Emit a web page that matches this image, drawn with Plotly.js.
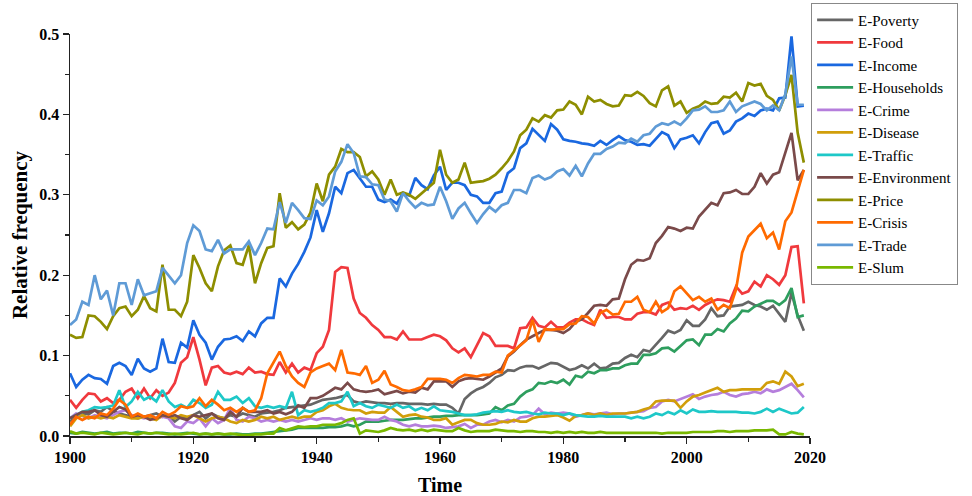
<!DOCTYPE html>
<html>
<head>
<meta charset="utf-8">
<script src="https://cdn.plot.ly/plotly-3.0.1.min.js"></script>
<style>html,body{margin:0;padding:0;background:#fff}#chart{width:972px;height:496px}</style>
</head>
<body>
<div id="chart"></div>
<script>
const startYear = 1900;
const endYear = 2019;

const seriesNames = ["E-Poverty","E-Food","E-Income","E-Households","E-Crime","E-Disease","E-Traffic","E-Environment","E-Price","E-Crisis","E-Trade","E-Slum"];

const poverty = [
0.018,0.024,0.028,0.027,0.032,0.030,0.036,0.031,0.028,0.026,
0.024,0.022,0.024,0.026,0.028,0.024,0.026,0.018,0.024,0.022,
0.026,0.030,0.022,0.028,0.024,0.022,0.026,0.024,0.028,0.026,
0.024,0.028,0.029,0.030,0.032,0.035,0.036,0.037,0.038,0.039,
0.042,0.045,0.046,0.047,0.049,0.051,0.043,0.041,0.043,0.042,
0.041,0.041,0.040,0.041,0.041,0.040,0.040,0.040,0.039,0.040,
0.039,0.039,0.035,0.028,0.046,0.053,0.058,0.061,0.066,0.073,
0.076,0.082,0.081,0.085,0.087,0.087,0.084,0.088,0.091,0.090,
0.086,0.082,0.084,0.088,0.084,0.090,0.084,0.085,0.090,0.091,
0.097,0.101,0.098,0.107,0.105,0.113,0.122,0.131,0.128,0.132,
0.144,0.137,0.137,0.145,0.159,0.149,0.150,0.161,0.162,0.163,
0.167,0.163,0.161,0.157,0.162,0.152,0.142,0.178,0.150,0.131];

const food = [
0.045,0.035,0.045,0.053,0.052,0.043,0.047,0.041,0.045,0.055,
0.059,0.047,0.059,0.047,0.057,0.050,0.054,0.066,0.091,0.098,
0.123,0.095,0.063,0.085,0.087,0.079,0.077,0.080,0.077,0.085,
0.079,0.080,0.077,0.076,0.092,0.079,0.090,0.079,0.085,0.082,
0.103,0.111,0.132,0.204,0.210,0.209,0.171,0.153,0.147,0.138,
0.132,0.123,0.123,0.120,0.130,0.120,0.120,0.120,0.123,0.126,
0.124,0.119,0.109,0.104,0.109,0.098,0.113,0.128,0.124,0.112,
0.112,0.112,0.109,0.134,0.135,0.147,0.137,0.135,0.142,0.135,
0.135,0.141,0.145,0.145,0.141,0.138,0.157,0.147,0.148,0.148,
0.145,0.145,0.152,0.154,0.154,0.151,0.163,0.166,0.157,0.159,
0.158,0.162,0.157,0.163,0.167,0.170,0.169,0.167,0.186,0.177,
0.180,0.192,0.186,0.200,0.195,0.188,0.200,0.235,0.236,0.165];

const income = [
0.078,0.061,0.070,0.076,0.072,0.071,0.065,0.087,0.091,0.087,
0.076,0.096,0.084,0.080,0.084,0.121,0.092,0.091,0.116,0.110,
0.144,0.126,0.116,0.095,0.111,0.120,0.121,0.124,0.118,0.130,
0.124,0.140,0.147,0.147,0.196,0.186,0.202,0.214,0.229,0.247,
0.281,0.254,0.277,0.310,0.302,0.327,0.331,0.321,0.310,0.310,
0.294,0.291,0.294,0.289,0.302,0.299,0.321,0.312,0.307,0.324,
0.335,0.306,0.315,0.315,0.312,0.300,0.298,0.290,0.290,0.302,
0.304,0.327,0.333,0.358,0.364,0.382,0.374,0.367,0.388,0.381,
0.369,0.367,0.366,0.364,0.363,0.361,0.367,0.362,0.368,0.373,
0.368,0.366,0.362,0.363,0.361,0.370,0.378,0.374,0.358,0.369,
0.371,0.374,0.364,0.378,0.389,0.391,0.376,0.380,0.391,0.395,
0.401,0.398,0.405,0.407,0.405,0.420,0.421,0.497,0.410,0.411];

const households = [
0.004,0.003,0.005,0.004,0.003,0.004,0.005,0.003,0.004,0.004,
0.003,0.005,0.004,0.003,0.004,0.004,0.003,0.002,0.003,0.004,
0.003,0.002,0.003,0.002,0.003,0.002,0.002,0.003,0.002,0.002,
0.003,0.003,0.004,0.005,0.006,0.007,0.008,0.010,0.010,0.010,
0.010,0.010,0.011,0.011,0.012,0.014,0.012,0.014,0.018,0.018,
0.018,0.019,0.020,0.020,0.020,0.021,0.022,0.022,0.023,0.024,
0.024,0.025,0.025,0.026,0.026,0.026,0.026,0.027,0.028,0.036,
0.032,0.038,0.040,0.049,0.055,0.058,0.066,0.065,0.068,0.066,
0.070,0.064,0.075,0.073,0.080,0.078,0.082,0.082,0.084,0.084,
0.088,0.090,0.090,0.101,0.101,0.103,0.109,0.110,0.105,0.112,
0.119,0.120,0.113,0.126,0.126,0.133,0.130,0.140,0.146,0.156,
0.155,0.161,0.165,0.168,0.168,0.163,0.169,0.184,0.148,0.150];

const crime = [
0.022,0.028,0.025,0.022,0.026,0.024,0.022,0.026,0.030,0.032,
0.026,0.024,0.022,0.024,0.022,0.024,0.022,0.012,0.010,0.018,
0.016,0.022,0.012,0.022,0.016,0.020,0.035,0.020,0.018,0.024,
0.022,0.018,0.020,0.018,0.020,0.018,0.020,0.018,0.020,0.022,
0.020,0.022,0.022,0.020,0.022,0.018,0.020,0.022,0.021,0.020,
0.020,0.024,0.020,0.018,0.014,0.012,0.014,0.012,0.012,0.013,
0.012,0.010,0.011,0.012,0.015,0.010,0.014,0.014,0.018,0.020,
0.017,0.020,0.018,0.023,0.024,0.026,0.034,0.027,0.029,0.028,
0.029,0.028,0.024,0.026,0.028,0.027,0.028,0.029,0.027,0.028,
0.028,0.029,0.030,0.031,0.035,0.036,0.043,0.045,0.043,0.046,
0.049,0.052,0.046,0.049,0.051,0.052,0.055,0.051,0.049,0.052,
0.053,0.055,0.053,0.058,0.055,0.057,0.061,0.065,0.057,0.048];

const disease = [
0.012,0.022,0.026,0.022,0.024,0.022,0.024,0.022,0.026,0.024,
0.022,0.022,0.024,0.022,0.020,0.026,0.024,0.022,0.026,0.024,
0.026,0.022,0.018,0.022,0.024,0.022,0.018,0.016,0.020,0.018,
0.020,0.024,0.022,0.024,0.020,0.022,0.024,0.022,0.024,0.024,
0.030,0.032,0.037,0.040,0.035,0.033,0.032,0.032,0.028,0.030,
0.029,0.029,0.036,0.030,0.024,0.026,0.027,0.024,0.023,0.020,
0.020,0.022,0.014,0.017,0.020,0.020,0.016,0.014,0.014,0.015,
0.018,0.017,0.020,0.018,0.018,0.022,0.024,0.024,0.025,0.026,
0.023,0.019,0.025,0.026,0.028,0.026,0.028,0.026,0.028,0.028,
0.028,0.029,0.030,0.033,0.035,0.043,0.044,0.044,0.044,0.035,
0.043,0.049,0.051,0.054,0.057,0.060,0.055,0.057,0.057,0.058,
0.058,0.058,0.058,0.066,0.068,0.065,0.080,0.074,0.062,0.065];

const traffic = [
0.022,0.026,0.030,0.032,0.036,0.035,0.036,0.038,0.057,0.036,
0.043,0.055,0.045,0.049,0.043,0.057,0.043,0.036,0.039,0.035,
0.045,0.041,0.035,0.039,0.055,0.045,0.045,0.049,0.041,0.047,
0.037,0.035,0.037,0.035,0.037,0.035,0.055,0.026,0.032,0.030,
0.032,0.035,0.041,0.041,0.043,0.055,0.037,0.041,0.037,0.035,
0.039,0.037,0.035,0.039,0.035,0.037,0.032,0.035,0.032,0.037,
0.032,0.031,0.030,0.028,0.026,0.026,0.027,0.029,0.030,0.031,
0.030,0.032,0.030,0.029,0.030,0.028,0.027,0.029,0.028,0.028,
0.026,0.028,0.026,0.025,0.024,0.024,0.025,0.024,0.024,0.024,
0.024,0.022,0.024,0.022,0.024,0.028,0.026,0.030,0.027,0.032,
0.028,0.033,0.030,0.030,0.031,0.030,0.030,0.030,0.030,0.029,
0.029,0.028,0.030,0.034,0.030,0.034,0.031,0.028,0.029,0.036];

const environment = [
0.022,0.026,0.030,0.030,0.032,0.026,0.024,0.030,0.036,0.033,
0.024,0.026,0.024,0.020,0.022,0.026,0.024,0.026,0.022,0.020,
0.026,0.024,0.026,0.028,0.022,0.020,0.030,0.024,0.035,0.030,
0.030,0.030,0.032,0.028,0.030,0.027,0.030,0.038,0.035,0.047,
0.047,0.050,0.055,0.060,0.058,0.066,0.058,0.056,0.055,0.056,
0.058,0.052,0.054,0.056,0.053,0.055,0.054,0.060,0.058,0.068,
0.068,0.068,0.061,0.068,0.071,0.072,0.071,0.070,0.074,0.079,
0.084,0.099,0.105,0.113,0.120,0.124,0.128,0.132,0.132,0.131,
0.128,0.133,0.142,0.145,0.153,0.162,0.163,0.162,0.170,0.171,
0.195,0.213,0.219,0.218,0.221,0.240,0.249,0.260,0.258,0.255,
0.259,0.258,0.273,0.282,0.290,0.287,0.302,0.303,0.306,0.301,
0.301,0.310,0.327,0.314,0.325,0.328,0.352,0.377,0.318,0.331];

const price = [
0.126,0.122,0.123,0.150,0.149,0.142,0.133,0.149,0.159,0.161,
0.149,0.157,0.174,0.159,0.155,0.213,0.157,0.157,0.149,0.167,
0.225,0.209,0.190,0.180,0.211,0.231,0.237,0.215,0.213,0.237,
0.190,0.215,0.234,0.236,0.302,0.259,0.266,0.257,0.263,0.278,
0.314,0.292,0.325,0.335,0.357,0.353,0.353,0.347,0.323,0.329,
0.319,0.300,0.319,0.300,0.303,0.300,0.295,0.302,0.309,0.315,
0.356,0.325,0.315,0.319,0.340,0.315,0.316,0.317,0.320,0.325,
0.333,0.342,0.354,0.374,0.381,0.395,0.391,0.399,0.396,0.405,
0.406,0.416,0.412,0.400,0.422,0.416,0.418,0.413,0.410,0.411,
0.424,0.423,0.428,0.423,0.414,0.410,0.430,0.435,0.411,0.416,
0.402,0.407,0.410,0.416,0.413,0.414,0.422,0.421,0.427,0.416,
0.439,0.436,0.438,0.423,0.418,0.405,0.424,0.449,0.377,0.340];

const crisis = [
0.014,0.024,0.020,0.024,0.022,0.028,0.026,0.034,0.045,0.039,
0.024,0.028,0.024,0.026,0.022,0.030,0.026,0.030,0.037,0.035,
0.037,0.047,0.037,0.045,0.039,0.032,0.035,0.030,0.035,0.030,
0.032,0.047,0.078,0.091,0.105,0.087,0.074,0.066,0.061,0.079,
0.084,0.087,0.090,0.082,0.107,0.079,0.078,0.076,0.087,0.066,
0.070,0.081,0.064,0.061,0.057,0.056,0.058,0.061,0.071,0.071,
0.071,0.070,0.066,0.072,0.076,0.075,0.074,0.076,0.076,0.080,
0.079,0.100,0.106,0.112,0.119,0.144,0.117,0.133,0.132,0.133,
0.133,0.139,0.140,0.149,0.148,0.140,0.153,0.157,0.151,0.152,
0.167,0.167,0.173,0.157,0.154,0.167,0.154,0.159,0.180,0.186,
0.177,0.169,0.173,0.167,0.171,0.157,0.163,0.159,0.182,0.228,
0.248,0.256,0.264,0.246,0.253,0.232,0.267,0.278,0.306,0.331];

const trade = [
0.138,0.145,0.167,0.163,0.200,0.170,0.181,0.150,0.190,0.190,
0.163,0.195,0.175,0.178,0.180,0.209,0.200,0.190,0.200,0.240,
0.262,0.255,0.232,0.230,0.244,0.227,0.232,0.232,0.232,0.242,
0.225,0.240,0.258,0.257,0.291,0.265,0.290,0.281,0.271,0.270,
0.293,0.287,0.298,0.329,0.341,0.363,0.352,0.323,0.322,0.313,
0.312,0.294,0.292,0.279,0.302,0.292,0.284,0.290,0.287,0.288,
0.310,0.292,0.270,0.283,0.290,0.277,0.265,0.276,0.285,0.279,
0.287,0.290,0.306,0.306,0.302,0.321,0.324,0.319,0.322,0.329,
0.332,0.324,0.336,0.323,0.339,0.351,0.351,0.357,0.360,0.365,
0.364,0.370,0.366,0.374,0.376,0.385,0.389,0.387,0.391,0.387,
0.395,0.405,0.406,0.410,0.403,0.403,0.405,0.416,0.403,0.410,
0.413,0.416,0.413,0.405,0.411,0.405,0.425,0.472,0.412,0.412];

const slum = [
0.006,0.003,0.004,0.003,0.002,0.004,0.003,0.002,0.003,0.004,
0.003,0.002,0.004,0.003,0.004,0.003,0.002,0.003,0.002,0.003,
0.004,0.002,0.003,0.002,0.003,0.002,0.003,0.002,0.001,0.001,
0.002,0.002,0.003,0.003,0.010,0.007,0.010,0.012,0.011,0.012,
0.012,0.014,0.014,0.014,0.016,0.020,0.022,0.003,0.007,0.006,
0.005,0.007,0.010,0.008,0.007,0.008,0.006,0.008,0.006,0.008,
0.007,0.006,0.006,0.010,0.007,0.005,0.006,0.006,0.006,0.008,
0.007,0.006,0.006,0.005,0.006,0.006,0.005,0.005,0.004,0.005,
0.004,0.005,0.004,0.005,0.004,0.004,0.005,0.004,0.004,0.004,
0.004,0.004,0.004,0.004,0.004,0.004,0.003,0.004,0.004,0.004,
0.004,0.005,0.005,0.005,0.005,0.006,0.006,0.005,0.006,0.006,
0.006,0.007,0.007,0.007,0.008,0.002,0.002,0.005,0.003,0.002];

const seriesValues = [poverty, food, income, households, crime, disease, traffic, environment, price, crisis, trade, slum];
const seriesColors = ["#666666","#F0393D","#1A68E0","#2E9E5E","#B57EDC","#D19E0A","#1EC8C8","#7A4A4A","#8E8E00","#FF6A00","#5F9BD6","#79B800"];

const years = [];
for (let y = startYear; y <= endYear; y++) years.push(y);

const traces = seriesNames.map((name, i) => ({
  type: 'scatter', mode: 'lines', name: name,
  x: years, y: seriesValues[i],
  line: {color: seriesColors[i], width: 2.7},
  hoverinfo: 'x+y+name'
}));

const serif = '"Liberation Serif", "Times New Roman", Times, serif';

const layout = {
  width: 972, height: 496,
  margin: {l: 70, r: 162, t: 34, b: 60, autoexpand: false},
  paper_bgcolor: '#fff', plot_bgcolor: '#fff',
  font: {family: serif, color: '#000'},
  showlegend: true,
  xaxis: {
    range: [1900, 2020], tick0: 1900, dtick: 20,
    ticks: 'outside', ticklen: 6, tickwidth: 1.3, tickcolor: '#222',
    minor: {dtick: 10, ticks: 'outside', ticklen: 4, tickwidth: 1.2, tickcolor: '#222', showgrid: false},
    showline: true, linecolor: '#222', linewidth: 1.5,
    showgrid: false, zeroline: false,
    tickfont: {family: serif, size: 16, weight: 'bold', color: '#000'},
    title: {text: 'Time', font: {family: serif, size: 20, weight: 'bold', color: '#000'}, standoff: 14}
  },
  yaxis: {
    range: [0, 0.5], tick0: 0, dtick: 0.1, tickformat: '.1f',
    ticks: 'outside', ticklen: 6, tickwidth: 1.3, tickcolor: '#222',
    minor: {dtick: 0.05, ticks: 'outside', ticklen: 4, tickwidth: 1.2, tickcolor: '#222', showgrid: false},
    showline: true, linecolor: '#222', linewidth: 1.5,
    showgrid: false, zeroline: false,
    tickfont: {family: serif, size: 16, weight: 'bold', color: '#000'},
    title: {text: 'Relative frequency', font: {family: serif, size: 21, weight: 'bold', color: '#000'}, standoff: 6}
  },
  legend: {
    x: 1.0015, xanchor: 'left',
    y: 1.078, yanchor: 'top',
    maxheight: 330,
    bordercolor: '#888', borderwidth: 1, bgcolor: '#fff',
    font: {family: serif, size: 15, color: '#000'},
    tracegroupgap: 0, itemwidth: 36
  }
};

Plotly.newPlot('chart', traces, layout, {displayModeBar: false, staticPlot: true});
</script>
</body>
</html>
